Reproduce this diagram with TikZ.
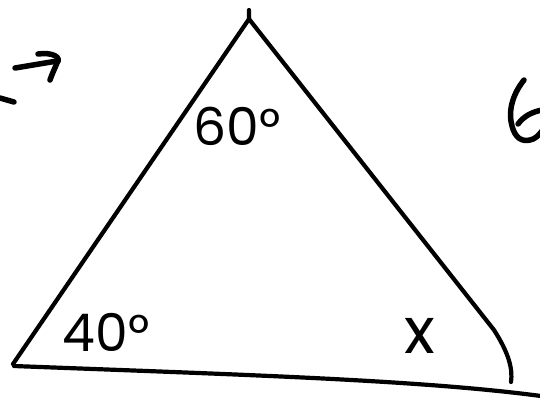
\documentclass[tikz,border=0pt]{standalone}
\usepackage{fontspec}
\setmainfont{Poppins}
\tikzset{
  stroke/.style={line width=4.2pt, line cap=round, line join=round, black},
  pen/.style={line width=5.5pt, line cap=round, line join=round, black},
  label/.style={inner sep=0pt, font=\fontsize{52}{52}\selectfont}
}
\begin{document}
\begin{tikzpicture}[x=1pt,y=-1pt]
  \clip (0,0) rectangle (540,400);
  \fill[white] (0,0) rectangle (540,400);
  % triangle points
  \coordinate (Ttip) at (249,10);
  \coordinate (T) at (249,19);
  \coordinate (L) at (13,364);
  \coordinate (Rbend) at (494,330);
  \coordinate (Rend) at (511,382);
  \coordinate (Bstart) at (14,366);
  \coordinate (Bend) at (541,396);
  \draw[stroke] (Ttip) -- (T) -- (L);
  \draw[stroke] (T) -- (Rbend) .. controls (508,352) and (513,368) .. (Rend);
  \draw[stroke] (Bstart) .. controls (250,375) and (420,380) .. (Bend);
  % labels
  \node[label] (a60) at (237,126) {60°};
  \node[label] (a40) at (106,332) {40°};
  \node[label, font=\fontsize{64}{64}\selectfont] (ax) at (420,336) {x};
  % partial six at right edge (fragment, cut by the frame)
  \draw[pen] (524,80) .. controls (512,95) and (508,112) .. (512,126)
             .. controls (515,138) and (522,142) .. (530,140)
             .. controls (535,139) and (538,136) .. (542,131);
  \draw[pen] (518,124) .. controls (524,116) and (532,112) .. (542,110);
  % arrow at top left
  \coordinate (arA) at (15,68);
  \coordinate (arB) at (57,61);
  \draw[pen] (arA) -- (arB);
  \draw[pen] (38,54) .. controls (52,52) and (62,57) .. (57,63) .. controls (55,68) and (52,74) .. (50,80);
  % fragment at left edge
  \coordinate (frA) at (0,98);
  \coordinate (frB) at (14,102);
  \draw[pen] (frA) -- (frB);
\end{tikzpicture}
\end{document}
